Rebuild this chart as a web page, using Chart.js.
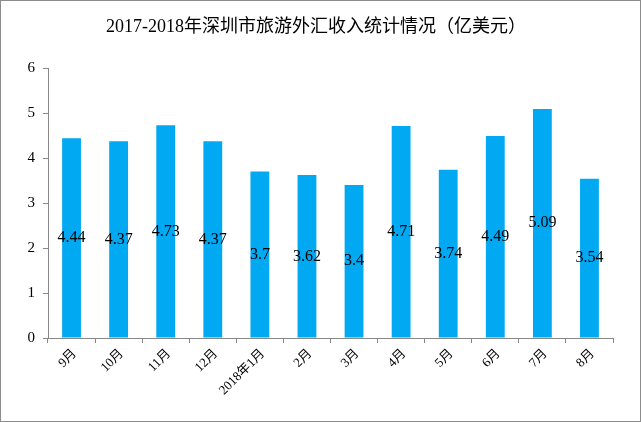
<!DOCTYPE html>
<html>
<head>
<meta charset="utf-8">
<script src="https://cdn.jsdelivr.net/npm/chart.js@4/dist/chart.umd.min.js"></script>
<style>
  html, body { margin: 0; padding: 0; background: #fff; }
  #wrap { width: 641px; height: 422px; }
</style>
</head>
<body>
<div id="wrap"><canvas id="chart" width="641" height="422"></canvas></div>
<script>
/* ── Data ── */
const categories = ["9月", "10月", "11月", "12月", "2018年1月", "2月", "3月", "4月", "5月", "6月", "7月", "8月"];
const revenue    = [4.44, 4.37, 4.73, 4.37, 3.7, 3.62, 3.4, 4.71, 3.74, 4.49, 5.09, 3.54];
const yTicks     = [0, 1, 2, 3, 4, 5, 6];
const titleText  = "2017-2018年深圳市旅游外汇收入统计情况（亿美元）";

/* ── Layout / style ── */
const AREA = { left: 48, right: 613, top: 68, bottom: 338 };
const W = 641, H = 422;
const BAR_COLOR = "#00A9F2";
const SERIF = "'Liberation Serif', 'Noto Sans CJK SC', serif";

/* ── Plugin: frame, title, value labels ── */
const decorPlugin = {
  id: "decor",
  beforeDraw(chart) {
    const ctx = chart.ctx;
    ctx.save();
    ctx.fillStyle = "#fff";
    ctx.fillRect(0, 0, W, H);
    ctx.restore();
  },
  afterDraw(chart) {
    const ctx = chart.ctx;
    ctx.save();
    // outer frame
    ctx.strokeStyle = "#8c8c8c";
    ctx.lineWidth = 1;
    ctx.strokeRect(0.5, 0.5, W - 1, H - 1);

    // title
    ctx.fillStyle = "#000";
    ctx.font = "18px " + SERIF;
    ctx.textAlign = "center";
    ctx.textBaseline = "middle";
    ctx.fillText(titleText, 316, 27);

    // value labels, centred in each bar
    ctx.font = "16px " + SERIF;
    const meta = chart.getDatasetMeta(0);
    meta.data.forEach((bar, i) => {
      const y = (bar.y + bar.base) / 2;
      ctx.fillText(String(revenue[i]), bar.x, y);
    });
    ctx.restore();
  },
};

/* ── Chart ── */
new Chart(document.getElementById("chart"), {
  type: "bar",
  data: {
    labels: categories,
    datasets: [{
      data: revenue,
      backgroundColor: BAR_COLOR,
      barPercentage: 0.4,
      categoryPercentage: 1.0,
    }],
  },
  options: {
    responsive: false,
    animation: false,
    devicePixelRatio: 1,
    layout: { padding: { left: 0, right: W - AREA.right, top: AREA.top, bottom: 0 } },
    plugins: {
      legend: { display: false },
      title: { display: false },
      tooltip: { enabled: false },
    },
    scales: {
      x: {
        grid: {
          display: true,
          drawOnChartArea: false,
          offset: true,
          tickLength: 5,
          color: "#888",
        },
        border: { color: "#888" },
        ticks: {
          color: "#000",
          font: { family: SERIF, size: 13 },
          maxRotation: 45,
          minRotation: 45,
          autoSkip: false,
          padding: 3,
          labelOffset: 3,
        },
        afterFit: s => { s.height = H - AREA.bottom; },
      },
      y: {
        min: 0,
        max: 6,
        afterBuildTicks: s => { s.ticks = yTicks.map(v => ({ value: v })); },
        grid: {
          display: true,
          drawOnChartArea: false,
          tickLength: 5,
          color: "#888",
        },
        border: { color: "#888" },
        ticks: {
          color: "#000",
          font: { family: SERIF, size: 15 },
          padding: 8,
        },
        afterFit: s => { s.width = AREA.left; },
      },
    },
  },
  plugins: [decorPlugin],
});
</script>
</body>
</html>
